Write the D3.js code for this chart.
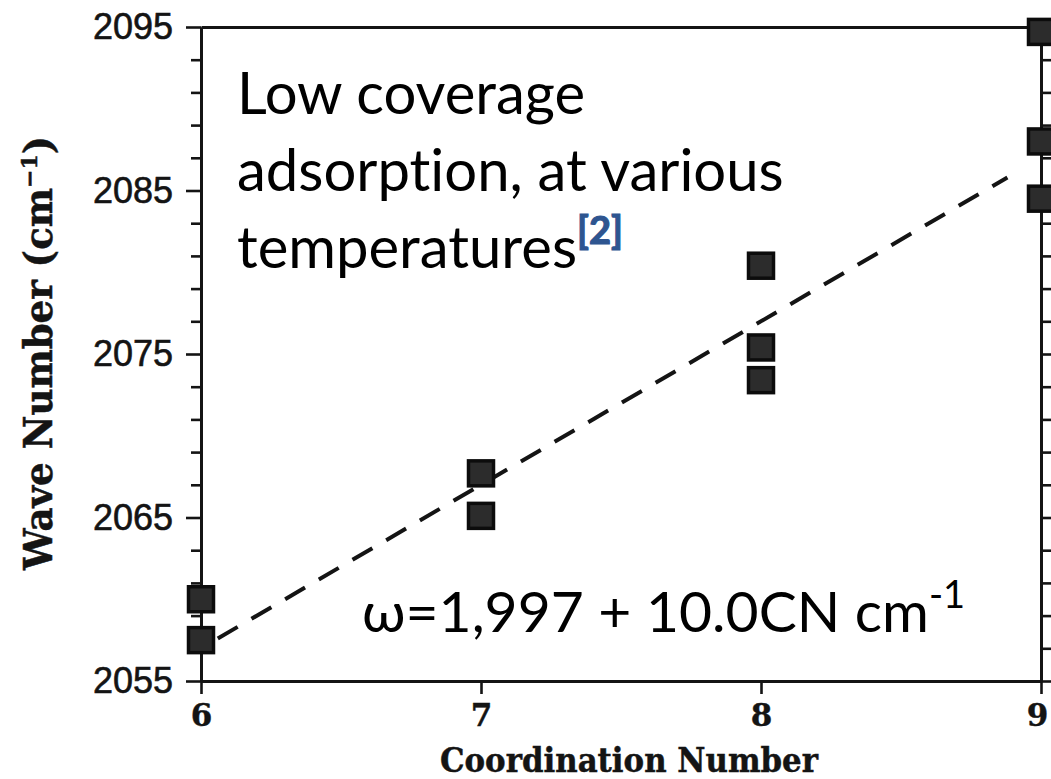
<!DOCTYPE html>
<html>
<head>
<meta charset="utf-8">
<script src="https://cdn.jsdelivr.net/npm/d3@7"></script>
<style>
  html, body { margin: 0; padding: 0; background: #fff; }
  svg { display: block; }
  text { font-variant-ligatures: none; font-feature-settings: "liga" 0, "clig" 0; }
</style>
</head>
<body>
<svg id="chart" width="1051" height="779"></svg>
<script>
// CO stretch frequency vs. coordination number of the adsorption site
const coordination = [6, 6, 7, 7, 8, 8, 8, 9, 9, 9];
const waveNumber   = [2060.0, 2057.5, 2067.7, 2065.1, 2080.4, 2075.4, 2073.4, 2094.7, 2088.0, 2084.5];

const xTicks = [6, 7, 8, 9];
const yTicks = [2055, 2065, 2075, 2085, 2095];
const yMinorTicks = d3.range(2055, 2096, 2);

// linear fit  ω = a + b·CN
const fitIntercept = 1997;
const fitSlope = 10.0;
const fitSpan = [6.06, 8.88];

const noteLines = ["Low coverage", "adsorption, at various", "temperatures"];
const noteRef = "[2]";
const xTitle = "Coordination Number";
const yTitle = "Wave Number (cm";

const svg = d3.select("#chart");
const ink = "#141414";

const x = d3.scaleLinear().domain([6, 9]).range([201, 1041]);
const y = d3.scaleLinear().domain([2055, 2095]).range([681, 27]);

const slab = "'DejaVu Serif', 'Liberation Serif', serif";
const sans = "'Liberation Sans', Arial, sans-serif";
const body = "Lato, 'Open Sans', 'Noto Sans', sans-serif";

function styleAxis(g) {
  g.selectAll("path.domain").attr("stroke", ink).attr("stroke-width", 3);
  g.selectAll(".tick line").attr("stroke", ink).attr("stroke-width", 2.6);
}

// left axis: minor ticks every 2, labelled majors every 10
svg.append("g")
  .attr("transform", `translate(${x(6)},0)`)
  .call(d3.axisLeft(y).tickValues(yMinorTicks.filter(v => !yTicks.includes(v)))
    .tickSize(10).tickSizeOuter(0).tickFormat(""))
  .call(styleAxis);

const yAxis = svg.append("g")
  .attr("transform", `translate(${x(6)},0)`)
  .call(d3.axisLeft(y).tickValues(yTicks).tickSize(15).tickSizeOuter(0)
    .tickPadding(13).tickFormat(d3.format("d")))
  .call(styleAxis);
yAxis.selectAll(".tick text")
  .attr("font-family", sans).attr("font-size", 36).attr("fill", ink)
  .attr("stroke", ink).attr("stroke-width", 0.6);

// right axis: ticks every 2 units
svg.append("g")
  .attr("transform", `translate(${x(9)},0)`)
  .call(d3.axisRight(y).tickValues(yMinorTicks).tickSize(11).tickSizeOuter(0).tickFormat(""))
  .call(styleAxis);

// bottom axis
const xAxis = svg.append("g")
  .attr("transform", `translate(0,${y(2055)})`)
  .call(d3.axisBottom(x).tickValues(xTicks).tickSize(13).tickSizeOuter(0)
    .tickPadding(10).tickFormat(d3.format("d")))
  .call(styleAxis);
xAxis.selectAll(".tick text")
  .attr("font-family", slab).attr("font-weight", "bold").attr("font-size", 31)
  .attr("fill", ink).attr("stroke", ink).attr("stroke-width", 0.4)
  .attr("dx", d => d === 9 ? -4 : 0);

// top frame line
svg.append("g")
  .attr("transform", `translate(0,${y(2095)})`)
  .call(d3.axisTop(x).tickValues([]).tickSizeOuter(0))
  .call(styleAxis);

// fitted trend line
const fitLine = d3.line().x(d => x(d)).y(d => y(fitIntercept + fitSlope * d));
svg.append("path")
  .datum(fitSpan)
  .attr("d", fitLine)
  .attr("fill", "none")
  .attr("stroke", ink)
  .attr("stroke-width", 4)
  .attr("stroke-dasharray", "23,16");

// square markers
const side = 25;
svg.append("g").selectAll("rect")
  .data(coordination.map((c, i) => ({ c, w: waveNumber[i] })))
  .join("rect")
  .attr("x", d => x(d.c) - side / 2)
  .attr("y", d => y(d.w) - side / 2)
  .attr("width", side)
  .attr("height", side)
  .attr("fill", "#2c2c2c")
  .attr("stroke", "#0c0c0c")
  .attr("stroke-width", 3.5);

// axis titles
svg.append("text")
  .attr("x", 440).attr("y", 772)
  .attr("font-family", slab).attr("font-weight", "bold").attr("font-size", 33)
  .attr("textLength", 378).attr("lengthAdjust", "spacingAndGlyphs")
  .attr("fill", ink).attr("stroke", ink).attr("stroke-width", 0.5)
  .text(xTitle);

const yt = svg.append("text")
  .attr("transform", "translate(52,570) rotate(-90)")
  .attr("font-family", slab).attr("font-weight", "bold").attr("font-size", 39)
  .attr("fill", ink).attr("stroke", ink).attr("stroke-width", 0.5);
yt.append("tspan")
  .attr("textLength", 382).attr("lengthAdjust", "spacingAndGlyphs")
  .text(yTitle);
yt.append("tspan").attr("dy", -15).attr("font-size", 22).text("\u22121");
yt.append("tspan").attr("dy", 15).text(")");

// annotation block
const note = svg.append("text")
  .attr("font-family", body).attr("font-size", 58).attr("fill", "#000");
noteLines.forEach((line, i) => {
  note.append("tspan").attr("x", 237).attr("y", 114 + i * 77).text(line);
});
note.append("tspan")
  .attr("dy", -24).attr("font-size", 38).attr("font-weight", "bold")
  .attr("fill", "#2E5590").attr("stroke", "#2E5590").attr("stroke-width", 1.2)
  .text(noteRef);

// fit equation
const eq = svg.append("text")
  .attr("x", 362).attr("y", 632)
  .attr("font-family", body).attr("font-size", 57).attr("fill", "#000");
eq.append("tspan").text(`\u03C9=1,997 + ${fitSlope.toFixed(1)}CN cm`);
eq.append("tspan").attr("dy", -24).attr("font-size", 38).text("-1");
</script>
</body>
</html>
